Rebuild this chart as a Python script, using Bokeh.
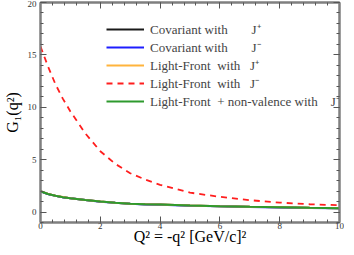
from bokeh.plotting import figure
from bokeh.models import Range1d, LinearAxis, Legend, LegendItem, FixedTicker
from bokeh.embed import file_html
from bokeh.resources import INLINE

# Data
q2 = [0.0, 0.25, 0.5, 0.75, 1.0, 1.5, 2.0, 2.5, 3.0, 3.5, 4.0, 5.0, 6.0, 7.0, 8.0, 9.0, 10.0]
cov_jplus  = [1.98, 1.72, 1.55, 1.42, 1.32, 1.15, 1.00, 0.89, 0.80, 0.74, 0.72, 0.63, 0.56, 0.50, 0.45, 0.40, 0.36]
cov_jminus = [1.97, 1.71, 1.54, 1.41, 1.31, 1.14, 0.99, 0.88, 0.79, 0.73, 0.70, 0.61, 0.54, 0.48, 0.43, 0.39, 0.35]
lf_jplus   = [2.00, 1.73, 1.56, 1.43, 1.32, 1.15, 1.00, 0.89, 0.80, 0.74, 0.72, 0.63, 0.56, 0.50, 0.45, 0.40, 0.36]
lf_jminus  = [15.8, 13.9, 12.2, 10.8, 9.6, 7.5, 5.8, 4.6, 3.7, 3.1, 2.6, 1.85, 1.45, 1.13, 0.9, 0.74, 0.65]
lf_nv_jminus = [1.98, 1.72, 1.55, 1.42, 1.32, 1.15, 1.00, 0.89, 0.80, 0.74, 0.72, 0.63, 0.56, 0.50, 0.45, 0.40, 0.36]

x_ticks = [0, 2, 4, 6, 8, 10]
y_ticks = [0, 5, 10, 15, 20]

labels = [
    "Covariant with\u2003\u2002\u2004J\u207a",
    "Covariant with\u2003\u2002\u2004J\u207b",
    "Light-Front\u2002with\u2002\u2005J\u207a",
    "Light-Front\u2002with\u2002\u2005J\u207b",
    "Light-Front\u2002+ non-valence with\u2003J\u207b",
]

FONT = "Liberation Serif"
FRAME = "#7f7f7f"

p = figure(width=344, height=247, output_backend="svg", toolbar_location=None,
           x_range=Range1d(0, 10), y_range=Range1d(-1, 20),
           min_border_left=30, min_border_right=5, min_border_top=2, min_border_bottom=10)
p.grid.visible = False
p.outline_line_color = FRAME
p.outline_line_width = 2

r1 = p.line(q2, cov_jplus, line_color="#1a1a1a", line_width=2)
r2 = p.line(q2, cov_jminus, line_color="#1e1eff", line_width=2)
r3 = p.line(q2, lf_jplus, line_color="#ffb43c", line_width=2)
r4 = p.line(q2, lf_jminus, line_color="#ff1e1e", line_width=1.8, line_dash="6 5")
r5 = p.line(q2, lf_nv_jminus, line_color="#2e9a2e", line_width=2)

def style(ax, show_labels=True):
    ax.axis_line_color = FRAME
    ax.axis_line_width = 2
    ax.major_tick_in = 6
    ax.major_tick_out = 0
    ax.minor_tick_in = 3
    ax.minor_tick_out = 0
    ax.major_tick_line_color = "#555555"
    ax.minor_tick_line_color = "#555555"
    ax.major_label_text_font = FONT
    ax.major_label_text_font_size = "9px"
    ax.major_label_text_color = "#333333"
    ax.axis_label_text_font = FONT
    ax.axis_label_text_font_style = "normal"
    ax.axis_label_text_color = "#000000"
    if not show_labels:
        ax.major_label_text_font_size = "0px"
        ax.major_label_text_alpha = 0
        ax.major_label_standoff = 0

p.xaxis.ticker = FixedTicker(ticks=x_ticks, minor_ticks=[i * 0.4 for i in range(26)])
p.yaxis.ticker = FixedTicker(ticks=y_ticks, minor_ticks=list(range(-1, 21)))
style(p.xaxis[0])
style(p.yaxis[0])
p.xaxis.axis_label = "Q\u00b2 = -q\u00b2 [GeV/c]\u00b2"
p.xaxis.axis_label_text_font_size = "16px"
p.xaxis.axis_label_standoff = -4
p.xaxis.major_label_standoff = 0
p.yaxis.axis_label = "G\u2081(q\u00b2)"
p.yaxis.axis_label_text_font_size = "16px"
p.yaxis.axis_label_standoff = 4
p.yaxis.major_label_standoff = 4

top = LinearAxis(ticker=FixedTicker(ticks=x_ticks, minor_ticks=[i * 0.4 for i in range(26)]))
style(top, False)
right = LinearAxis(ticker=FixedTicker(ticks=y_ticks, minor_ticks=list(range(-1, 21))))
style(right, False)
p.add_layout(top, "above")
p.add_layout(right, "right")

legend = Legend(items=[LegendItem(label=l, renderers=[r]) for l, r in zip(labels, [r1, r2, r3, r4, r5])],
                location=(66, 112))
legend.border_line_alpha = 0
legend.background_fill_alpha = 0
legend.padding = 0
legend.margin = 0
legend.spacing = 0
legend.glyph_width = 38
legend.glyph_height = 16
legend.label_height = 16
legend.label_standoff = 6
legend.label_text_font = FONT
legend.label_text_font_size = "13px"
p.add_layout(legend, "center")

open("out.html", "w").write(file_html(p, INLINE))
